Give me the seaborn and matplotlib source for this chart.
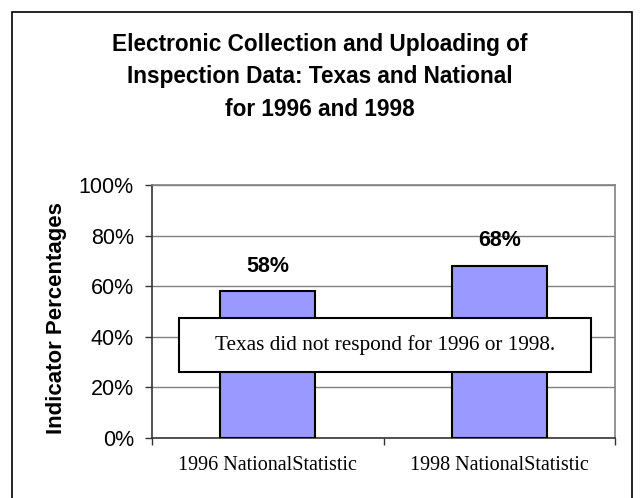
import matplotlib
matplotlib.use("Agg")
import matplotlib.pyplot as plt
import matplotlib.patches as mpatches
import seaborn as sns
import pandas as pd

categories = ["1996 NationalStatistic", "1998 NationalStatistic"]
values = [58, 68]
value_labels = ["58%", "68%"]
y_ticks = [0, 20, 40, 60, 80, 100]
y_tick_labels = ["0%", "20%", "40%", "60%", "80%", "100%"]

title = "Electronic Collection and Uploading of\nInspection Data: Texas and National\nfor 1996 and 1998"
note = "Texas did not respond for 1996 or 1998."

df = pd.DataFrame({"category": categories, "value": values})

sns.set_style("white")
plt.rcParams["font.family"] = ["Liberation Sans", "DejaVu Sans"]
plt.rcParams["text.color"] = "black"
plt.rcParams["axes.labelcolor"] = "black"
plt.rcParams["xtick.labelcolor"] = "black"
plt.rcParams["ytick.labelcolor"] = "black"

fig = plt.figure(figsize=(6.41, 4.98), dpi=100)
ax = fig.add_axes([152 / 641, 60 / 498, 463 / 641, 253 / 498])

# outer frame around the whole chart
fig.patches.append(mpatches.Rectangle((12 / 641, -0.05), 620 / 641, 1.05 - 12 / 498,
                                      transform=fig.transFigure, fill=False,
                                      edgecolor="black", linewidth=1.2))

sns.barplot(data=df, x="category", y="value", color="#9999FF", width=0.41,
            edgecolor="black", linewidth=1.5, saturation=1, ax=ax, zorder=3)

ax.set_xlim(-0.5, 1.5)
ax.set_ylim(0, 100)
ax.set_yticks(y_ticks)
ax.set_yticklabels(y_tick_labels, fontsize=15.5)
ax.yaxis.grid(True, color="#808080", linewidth=1.0, zorder=0)
ax.set_axisbelow(True)

ax.set_xticks([0, 1])
ax.set_xticklabels(categories, family=["Liberation Serif"], fontsize=14.5)
ax.set_xticks([-0.5, 0.5, 1.5], minor=True)
ax.tick_params(axis="x", which="major", length=0, pad=13)
ax.tick_params(axis="x", which="minor", length=5, width=1, color="#333333", direction="out", bottom=True)
ax.tick_params(axis="y", length=5, width=1, color="#333333", direction="out", left=True, pad=8)

ax.set_xlabel("")
ax.set_ylabel("Indicator Percentages", fontsize=16, fontweight="bold")
ax.yaxis.set_label_coords(-0.183, 0.474)

for side in ["left", "bottom"]:
    ax.spines[side].set_color("#333333")
    ax.spines[side].set_linewidth(1.2)
for side in ["top", "right"]:
    ax.spines[side].set_visible(True)
    ax.spines[side].set_color("#808080")
    ax.spines[side].set_linewidth(1.2)

for i, (v, lab) in enumerate(zip(values, value_labels)):
    ax.annotate(lab, (i, v), xytext=(0, 25), textcoords="offset pixels",
                ha="center", va="center", fontsize=15.5, fontweight="bold")

# note box
ax.add_patch(mpatches.Rectangle((0.058, 0.261), 0.89, 0.213, transform=ax.transAxes,
                                facecolor="white", edgecolor="black", linewidth=1.5, zorder=5))
ax.text(0.503, 0.3675, note, transform=ax.transAxes, ha="center", va="center",
        family=["Liberation Serif"], fontsize=15.3, zorder=6)

fig.text(320 / 641, 1 - 77 / 498, title, ha="center", va="center",
         fontsize=16.3, fontweight="bold", linespacing=1.55)

fig.savefig("out.png", dpi=100)
